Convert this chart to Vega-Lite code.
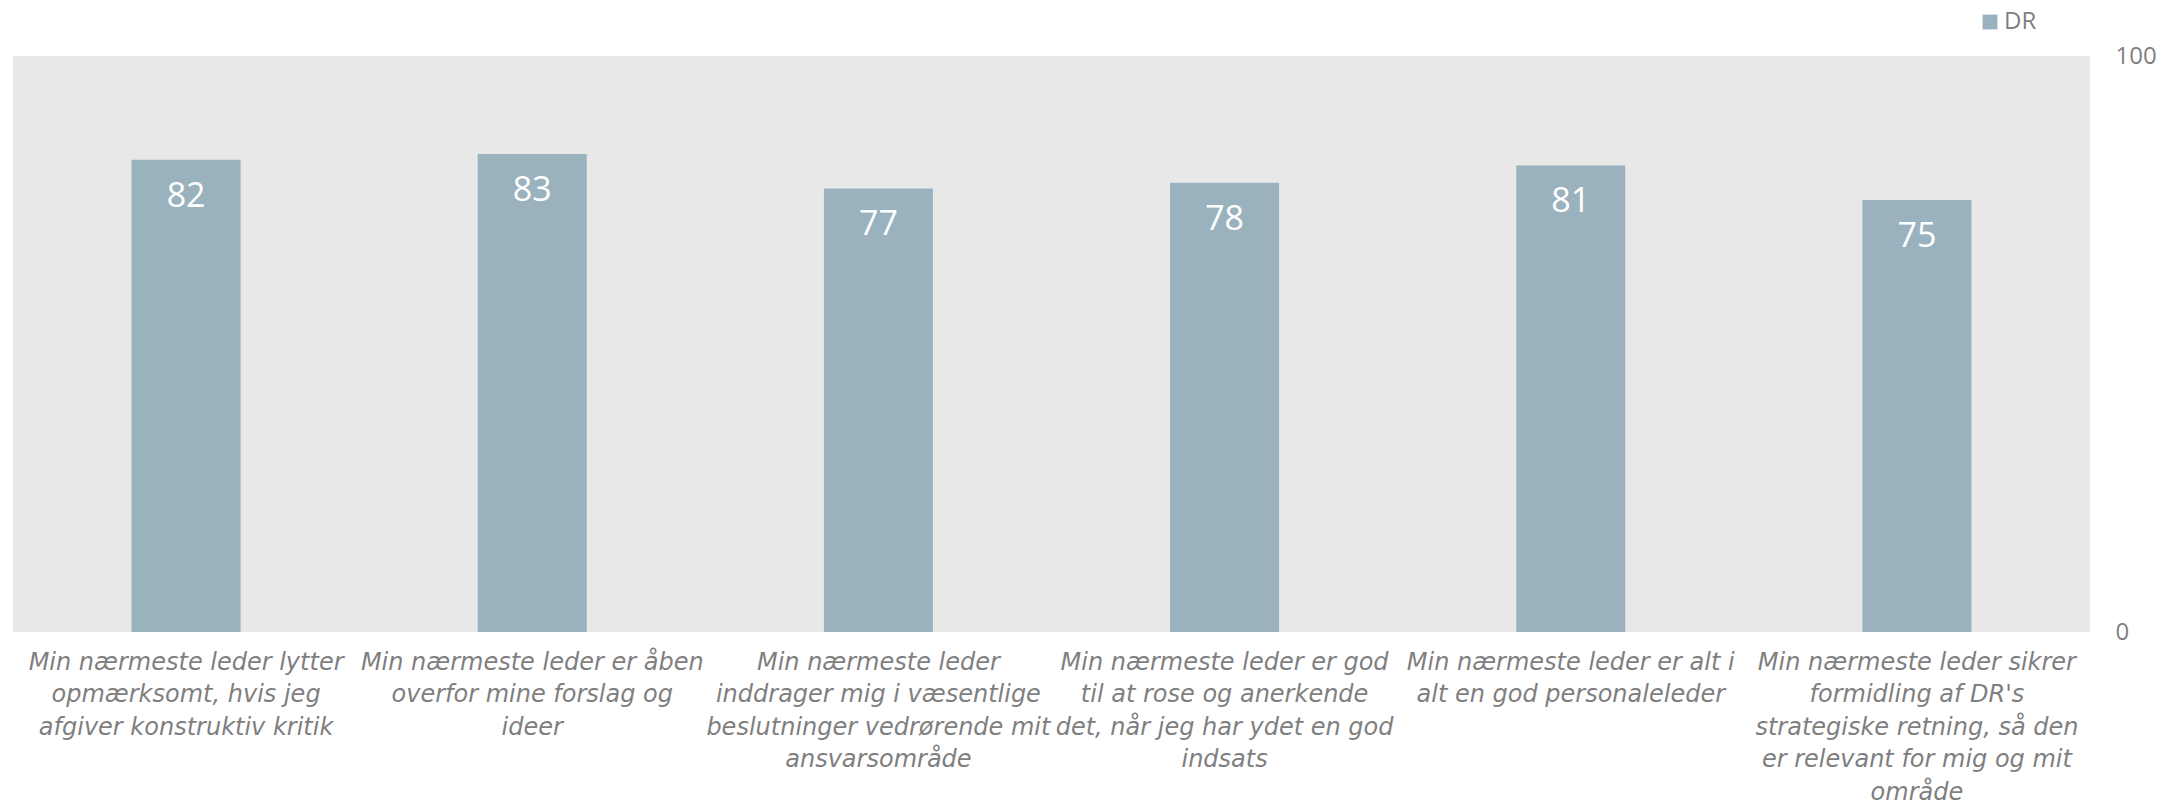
{
  "$schema": "https://vega.github.io/schema/vega-lite/v6.json",
  "autosize": {"type": "none"},
  "width": 2077,
  "height": 576,
  "padding": {"left": 13, "top": 56, "right": 92, "bottom": 170},
  "background": "white",
  "config": {
    "view": {"fill": "#E8E8E8", "stroke": null},
    "font": "Open Sans"
  },
  "data": {
    "values": [
      {"question": "Min nærmeste leder lytter|opmærksomt, hvis jeg|afgiver konstruktiv kritik", "series": "DR", "score": 82},
      {"question": "Min nærmeste leder er åben|overfor mine forslag og|ideer", "series": "DR", "score": 83},
      {"question": "Min nærmeste leder|inddrager mig i væsentlige|beslutninger vedrørende mit|ansvarsområde", "series": "DR", "score": 77},
      {"question": "Min nærmeste leder er god|til at rose og anerkende|det, når jeg har ydet en god|indsats", "series": "DR", "score": 78},
      {"question": "Min nærmeste leder er alt i|alt en god personaleleder", "series": "DR", "score": 81},
      {"question": "Min nærmeste leder sikrer|formidling af DR's|strategiske retning, så den|er relevant for mig og mit|område", "series": "DR", "score": 75}
    ]
  },
  "encoding": {
    "x": {
      "field": "question",
      "type": "nominal",
      "sort": null,
      "scale": {"paddingInner": 0.685, "paddingOuter": 0.3425},
      "axis": {
        "title": null,
        "orient": "bottom",
        "domain": false,
        "ticks": false,
        "labelAngle": 0,
        "labelExpr": "split(datum.label, '|')",
        "labelFont": "DejaVu Sans",
        "labelFontStyle": "italic",
        "labelFontSize": 24,
        "labelColor": "#7F7F7F",
        "labelLineHeight": 32.5,
        "labelBaseline": "top",
        "labelPadding": 18,
        "labelLimit": 0
      }
    },
    "y": {
      "field": "score",
      "type": "quantitative",
      "scale": {"domain": [0, 100], "nice": false},
      "axis": {
        "title": null,
        "orient": "right",
        "values": [0, 100],
        "grid": false,
        "domain": false,
        "ticks": false,
        "labelPadding": 25,
        "labelFontSize": 24,
        "labelColor": "#7F7F7F",
        "labelFont": "Open Sans"
      }
    }
  },
  "layer": [
    {
      "mark": {"type": "bar"},
      "encoding": {
        "color": {
          "field": "series",
          "type": "nominal",
          "scale": {"range": ["#9AB2BD"]},
          "legend": {
            "title": null,
            "orient": "none",
            "legendX": 1965,
            "legendY": -46,
            "symbolType": "square",
            "symbolSize": 220,
            "symbolStrokeWidth": 0,
            "labelFontSize": 24,
            "labelColor": "#7F7F7F",
            "labelFont": "Open Sans",
            "labelOffset": 2
          }
        }
      }
    },
    {
      "mark": {"type": "text", "color": "white", "fontSize": 34, "font": "Open Sans", "baseline": "alphabetic", "dy": 47},
      "encoding": {
        "text": {"field": "score", "type": "quantitative"}
      }
    }
  ]
}
